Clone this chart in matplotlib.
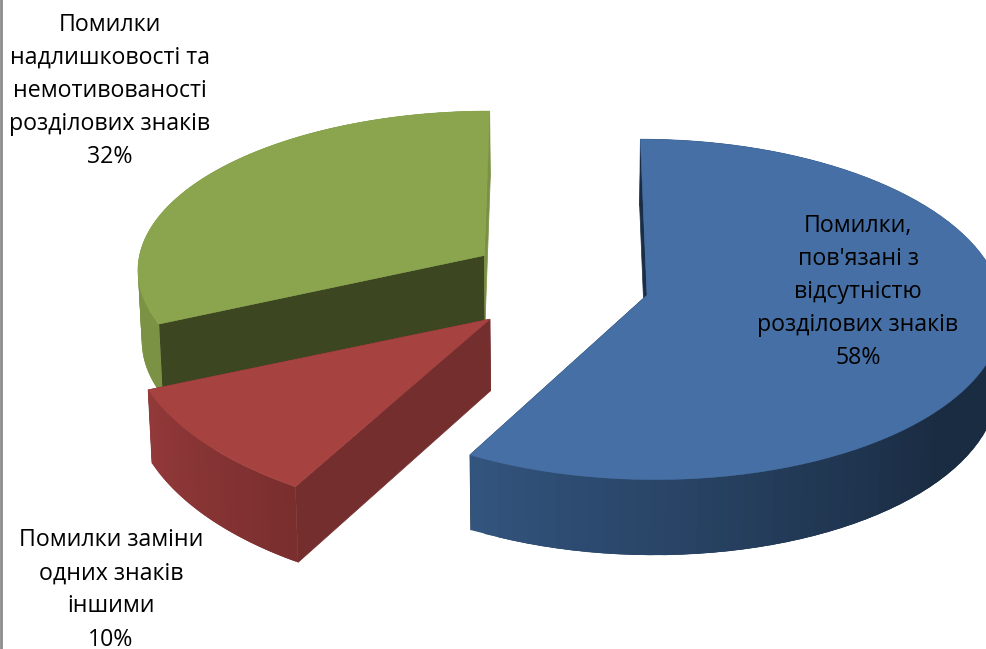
"""
Exploded 3D pie of punctuation error types, drawn with a small perspective projection.
"""

import numpy as np
import matplotlib
matplotlib.use("Agg")
import matplotlib.pyplot as plt
from matplotlib.collections import PolyCollection
from matplotlib.colors import to_rgb

labels = [
    "Помилки,\nпов'язані з\nвідсутністю\nрозділових знаків",
    "Помилки заміни\nодних знаків\nіншими",
    "Помилки\nнадлишковості та\nнемотивованості\nрозділових знаків",
]
shares = [58, 10, 32]

top_colors = ["#4670A5", "#A64341", "#8AA54D"]
# outer rim colours at the start and end of each slice's sweep
rim_start = ["#1A2C42", "#7A2E2E", "#7B9245"]
rim_end = ["#33557F", "#93393A", "#7B9245"]
wall_colors = ["#1B2E47", "#752E2E", "#3C4620"]
end_wall_colors = ["#1B2E47", "#752E2E", "#7A9145"]

label_pos = [(858, 292), (111, 590), (110, 91)]

# per-slice tweaks: radius factors, depth skew and a nudge in pixels
radius_x = [0.965, 0.98, 0.955]
radius_y = [1.01, 1.07, 0.96]
skew = [0.0, -0.06, 0.0]
nudge = [(0, 0), (-4, 6), (-1, -8)]

# camera and pie geometry
CX, CY = 560, 285
FOCAL = 3960
DIST = 10.85
TILT = np.radians(27)
EXPLODE = 0.245
HEIGHT = 0.22


def project(x, y, z = 0.0, shift = (0, 0)):
    """Project pie coordinates (x right, y back, z up) onto the pixel plane."""
    x, y = np.asarray(x, dtype = float), np.asarray(y, dtype = float)
    depth = DIST + y * np.cos(TILT) - z * np.sin(TILT)
    v = y * np.sin(TILT) + z * np.cos(TILT)
    return np.column_stack((CX + shift[0] + FOCAL * x / depth, CY + shift[1] - FOCAL * v / depth))


fig = plt.figure(figsize = (9.87, 6.49), dpi = 100)
ax = fig.add_axes([0, 0, 1, 1])
ax.set_xlim(0, 987)
ax.set_ylim(649, 0)
ax.axis("off")

# thin frame line on the left edge
ax.plot([0.5, 0.5], [0, 649], color = "#8C8C8C", lw = 2, zorder = 10)

cum = np.concatenate(([0], np.cumsum(shares))) * 360.0 / sum(shares)

# back slices first so nearer ones paint over them
for i in [2, 1, 0]:
    a0, a1 = cum[i], cum[i + 1]
    mid = np.radians((a0 + a1) / 2)
    ox, oy = EXPLODE * np.sin(mid), EXPLODE * np.cos(mid)
    shift = nudge[i]

    deg = np.linspace(a0, a1, 90)
    t = np.radians(deg)
    rx = ox + radius_x[i] * np.sin(t)
    ry = oy + radius_y[i] * np.cos(t) + skew[i] * np.sin(t)

    # the two cut walls
    for k, col in ((0, wall_colors[i]), (-1, end_wall_colors[i])):
        wall = np.vstack((
            project([ox, rx[k]], [oy, ry[k]], 0.0, shift),
            project([rx[k], ox], [ry[k], oy], -HEIGHT, shift),
        ))
        ax.add_patch(plt.Polygon(wall, closed = True, fc = col, ec = col, lw = 0.5, zorder = 2 + (2 - i) * 3))

    # outer rim: overlapping quads so the shading sweep shows no seams
    upper = project(rx, ry, 0.0, shift)
    lower = project(rx, ry, -HEIGHT, shift)
    n = len(rx)
    order = range(n - 1) if i != 0 else range(n - 2, -1, -1)
    c0, c1 = np.array(to_rgb(rim_start[i])), np.array(to_rgb(rim_end[i]))
    quads, cols = [], []
    for j in order:
        if i == 0:
            # the blue rim stays dark until it turns towards the front left
            f = np.clip((deg[j] - 130) / (a1 - 130), 0, 1)
            j2 = max(j - 2, 0)
            quads.append(np.vstack((upper[j2], upper[j + 1], lower[j + 1], lower[j2])))
        else:
            f = j / (n - 2)
            j2 = min(j + 2, n - 1)
            quads.append(np.vstack((upper[j], upper[j2], lower[j2], lower[j])))
        cols.append(c0 + (c1 - c0) * f)
    ax.add_collection(PolyCollection(quads, facecolors = cols, edgecolors = "none", zorder = 3 + (2 - i) * 3))

    # top face
    face = np.vstack((project([ox], [oy], 0.0, shift), upper))
    ax.add_patch(plt.Polygon(face, closed = True, fc = top_colors[i], ec = top_colors[i], lw = 0.4, zorder = 4 + (2 - i) * 3))

for name, share, (lx, ly) in zip(labels, shares, label_pos):
    ax.text(lx, ly, f"{name}\n{share}%", ha = "center", va = "center", ma = "center", fontsize = 16.7,
            family = "Open Sans", color = "black", linespacing = 1.5, zorder = 20)

fig.savefig("out.png", dpi = 100)
